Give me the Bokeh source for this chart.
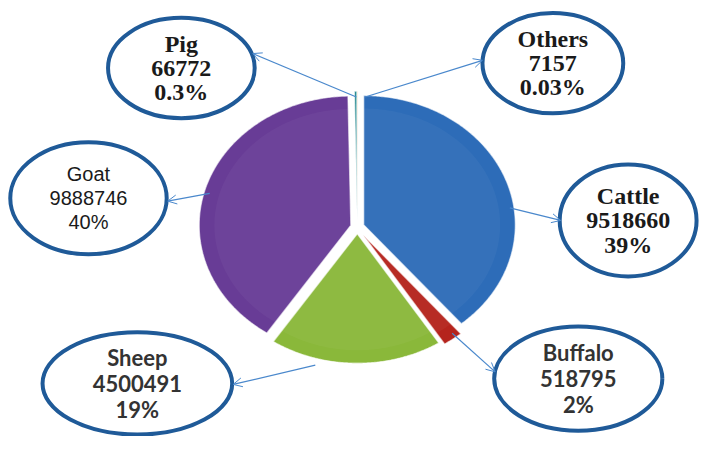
import numpy as np
from bokeh.plotting import figure
from bokeh.models import Range1d, Arrow, OpenHead
from bokeh.core.properties import value
from bokeh.embed import file_html
from bokeh.resources import INLINE

# ---- data ----
categories = ["Cattle", "Buffalo", "Sheep", "Goat", "Pig", "Others"]
counts = [9518660, 518795, 4500491, 9888746, 66772, 7157]
pct_labels = ["39%", "2%", "19%", "40%", "0.3%", "0.03%"]
colors = ["#2d6cb8", "#b5241d", "#8ab83a", "#683c96", "#2a8c92", "#e0801f"]

# ---- layout (reference pixel space, y downward) ----
W, H = 715, 452
p = figure(width=699, height=436, x_range=Range1d(0, W), y_range=Range1d(H, 0),
           output_backend="svg", toolbar_location=None, min_border=0)
p.axis.visible = False
p.grid.visible = False
p.outline_line_color = None
p.background_fill_color = "white"

cx, cy = 365, 235
rx, ry = 155, 134
explode = [7, 10, 7, 7, 7, 7]

total = float(sum(counts))
fr = np.array(counts) / total
ends = np.cumsum(fr) * 2 * np.pi
starts = ends - fr * 2 * np.pi

def slice_polys(k):
    xs, ys = [], []
    for s, e, d in zip(starts, ends, explode):
        mid = (s + e) / 2
        ox, oy = cx + d * np.sin(mid), cy - d * np.cos(mid)
        t = np.linspace(s, e, max(3, int((e - s) / 0.01)))
        px = np.concatenate([[ox], ox + k * rx * np.sin(t)])
        py = np.concatenate([[oy], oy - k * ry * np.cos(t)])
        xs.append(list(px)); ys.append(list(py))
    return xs, ys

xs, ys = slice_polys(1.0)
p.patches(xs, ys, fill_color=colors, line_color="#ffffff", line_alpha=0.6, line_width=1.2)
xs2, ys2 = slice_polys(0.9)
p.patches(xs2, ys2, fill_color="white", fill_alpha=0.04, line_color=None)

# ---- callouts ----
ell_x = [642, 591, 140, 90, 185, 565]
ell_y = [228, 392, 397, 205, 70, 65]
ell_w = [140, 172, 194, 160, 150, 144]
ell_h = [116, 108, 106, 116, 104, 104]
p.ellipse(ell_x, ell_y, width=ell_w, height=ell_h, fill_color="white",
          line_color="#1f5a98", line_width=4)

arrow_start = [(521, 215), (462, 345), (322, 378), (214, 200), (364, 100), (373, 100)]
arrow_end = [(573, 228), (506, 385), (238, 398), (171, 208), (258, 55), (493, 62)]
for (x0, y0), (x1, y1) in zip(arrow_start, arrow_end):
    p.add_layout(Arrow(end=OpenHead(size=9, line_color="#4a88cc", line_width=1),
                       x_start=x0, y_start=y0, x_end=x1, y_end=y1,
                       line_color="#4a88cc", line_width=1.2))

fonts = ["Liberation Serif", "Lato", "Lato", "Liberation Sans", "Liberation Serif", "Liberation Serif"]
styles = ["bold", "bold", "bold", "normal", "bold", "bold"]
tcol = ["#1a1a1a", "#333333", "#333333", "#1a1a1a", "#1a1a1a", "#1a1a1a"]
fsize = ["24px", "22px", "22px", "20px", "24px", "24px"]
line_dy = [25, 27, 27, 25, 25, 25]
for i, name in enumerate(categories):
    lines = [name, str(counts[i]), pct_labels[i]]
    for j, t in enumerate(lines):
        p.text([ell_x[i]], [ell_y[i] + (j - 1) * line_dy[i]], text=[t],
               text_font=value(fonts[i]), text_font_style=styles[i],
               text_font_size=fsize[i], text_color=tcol[i],
               text_align="center", text_baseline="middle")

open("out.html", "w").write(file_html(p, INLINE))
